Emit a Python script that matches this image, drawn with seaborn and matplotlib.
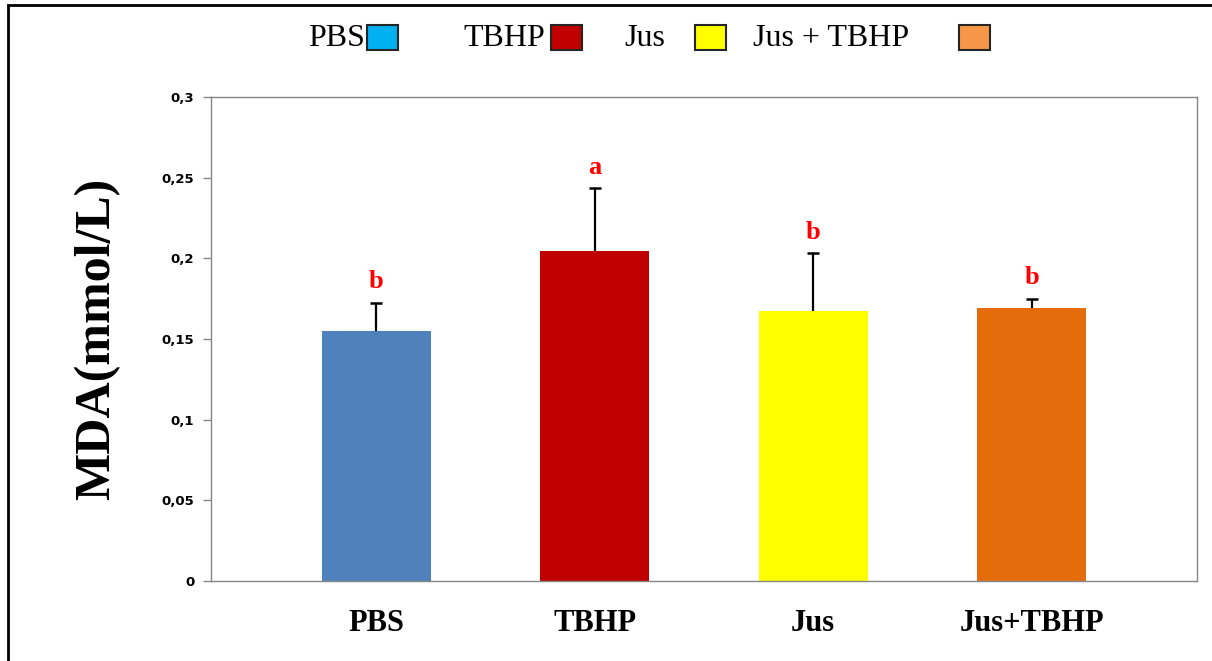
import matplotlib
matplotlib.use("Agg")
import matplotlib.pyplot as plt
import seaborn as sns
import pandas as pd
from matplotlib.patches import Rectangle

# data
groups = ["PBS", "TBHP", "Jus", "Jus+TBHP"]
mda_mean = [0.155, 0.2045, 0.1675, 0.1695]
mda_err = [0.0175, 0.039, 0.0355, 0.0055]
sig_letters = ["b", "a", "b", "b"]
bar_colors = ["#4F81BD", "#C00000", "#FFFF00", "#E46C0A"]
y_ticks = [0, 0.05, 0.1, 0.15, 0.2, 0.25, 0.3]
y_ticklabels = ["0", "0,05", "0,1", "0,15", "0,2", "0,25", "0,3"]

# top "legend" (drawn by hand, as in the original)
legend_labels = ["PBS", "TBHP", "Jus", "Jus + TBHP"]
legend_colors = ["#00B0F0", "#C00000", "#FFFF00", "#F79646"]

W, H = 1212, 661
df = pd.DataFrame({"group": groups, "mda": mda_mean})

sns.set_style("white")
plt.rcParams.update({"text.color": "black", "axes.labelcolor": "black",
                     "xtick.labelcolor": "black", "ytick.labelcolor": "black"})
fig = plt.figure(figsize=(W / 100, H / 100), dpi=100)
ax = fig.add_axes([211 / W, 1 - 581 / H, (1197 - 211) / W, (581 - 97) / H])

sns.barplot(data=df, x="group", y="mda", hue="group", palette=bar_colors,
            width=0.5, errorbar=None, legend=False, ax=ax,
            edgecolor="none", saturation=1)

# upper error bars only: stem + cap at the top
xs = list(range(len(groups)))
tops = [m + e for m, e in zip(mda_mean, mda_err)]
ax.errorbar(xs, mda_mean, yerr=[[0] * len(groups), mda_err],
            fmt="none", ecolor="black", elinewidth=1.6, capsize=0)
ax.plot(xs, tops, ls="none", marker="_", ms=9, mew=1.8, color="black")

for i, (t, s) in enumerate(zip(tops, sig_letters)):
    ax.text(i, t + 0.013, s, color="red", ha="center", va="center",
            fontsize=19, fontweight="bold", family="Liberation Serif")

ax.set_xlim(-0.757, 3.757)
ax.set_ylim(0, 0.3)
ax.set_yticks(y_ticks)
ax.set_yticklabels(y_ticklabels, fontsize=9.5, fontweight="bold",
                   family="DejaVu Sans")
ax.set_xticks(xs)
ax.set_xticklabels(groups, fontsize=22, fontweight="bold",
                   family="Liberation Serif")
ax.tick_params(axis="y", direction="out", length=6, color="#868686",
               width=1, pad=6, left=True)
ax.tick_params(axis="x", length=0, pad=20)
ax.set_xlabel("")
ax.set_ylabel("MDA(mmol/L)", fontsize=36, fontweight="bold",
              family="Liberation Serif", labelpad=30)
for sp in ax.spines.values():
    sp.set_visible(True)
    sp.set_color("#868686")
    sp.set_linewidth(1)

# hand-made legend at the top
text_x = [308, 463, 624, 753]
box_x = [367, 551, 695, 959]
for lab, col, tx, bx in zip(legend_labels, legend_colors, text_x, box_x):
    fig.text(tx / W, 1 - 38 / H, lab, fontsize=23, family="Liberation Serif",
             ha="left", va="center")
    fig.add_artist(Rectangle((bx / W, 1 - 50 / H), 31 / W, 25 / H,
                             transform=fig.transFigure, facecolor=col,
                             edgecolor="#262626", linewidth=1.5))

# outer frame
fig.add_artist(Rectangle((8 / W, -0.05), 1.1, 1 - 5 / H + 0.05,
                         transform=fig.transFigure, fill=False,
                         edgecolor="black", linewidth=2))

fig.savefig("out.png", dpi=100)
